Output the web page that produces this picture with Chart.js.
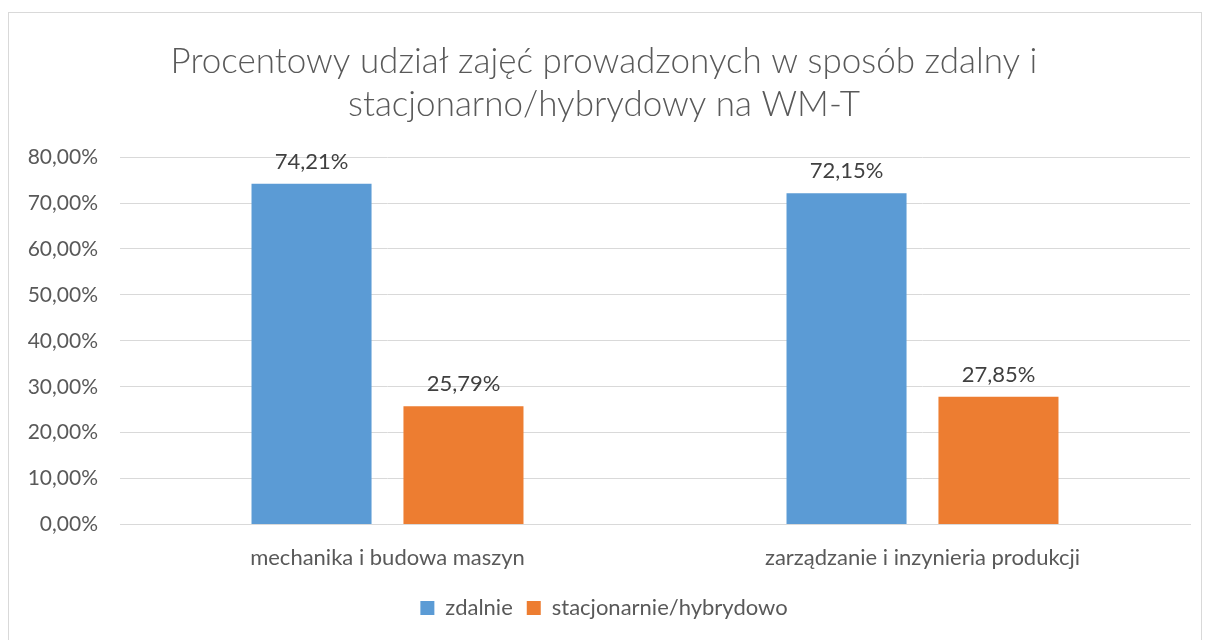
<!DOCTYPE html>
<html lang="pl">
<head>
  <meta charset="UTF-8">
  <title>Procentowy udział zajęć</title>
  <script src="https://cdn.jsdelivr.net/npm/chart.js"></script>
  <style>
    body {
      margin: 0;
      padding: 0;
      background: #fff;
    }

    .wrap {
      position: relative;
      width: 1208px;
      height: 640px;
    }

    .frame {
      position: absolute;
      left: 8px;
      top: 12px;
      width: 1192px;
      height: 640px;
      border: 1px solid #d9d9d9;
      pointer-events: none;
    }
  </style>
</head>
<body>
  <div class="wrap">
    <canvas id="chartCanvas" width="1208" height="640"></canvas>
    <div class="frame"></div>
  </div>

  <script>
    const categories = ["mechanika i budowa maszyn", "zarządzanie i inzynieria produkcji"];
    const zdalnie = [74.21, 72.15];
    const stacjonarnie = [25.79, 27.85];
    const seriesNames = ["zdalnie", "stacjonarnie/hybrydowo"];

    const fontFamily = "Lato, 'Open Sans', sans-serif";
    const textColor = "#595959";

    const fmt = v => v.toFixed(2).replace(".", ",") + "%";

    // etykiety nad słupkami
    const barLabels = {
      id: "barLabels",
      afterDatasetsDraw(chart) {
        const c = chart.ctx;
        c.save();
        c.font = "22px " + fontFamily;
        c.fillStyle = "#404040";
        c.textAlign = "center";
        c.textBaseline = "middle";
        chart.data.datasets.forEach((ds, i) => {
          chart.getDatasetMeta(i).data.forEach((bar, j) => {
            c.fillText(fmt(ds.data[j]), bar.x, bar.y - 22);
          });
        });
        c.restore();
      }
    };

    const ctx = document.getElementById("chartCanvas").getContext("2d");
    new Chart(ctx, {
      type: "bar",
      data: {
        labels: categories,
        datasets: [
          {
            label: seriesNames[0],
            data: zdalnie,
            backgroundColor: "#5b9bd5",
            categoryPercentage: 0.568,
            barPercentage: 0.79
          },
          {
            label: seriesNames[1],
            data: stacjonarnie,
            backgroundColor: "#ed7d31",
            categoryPercentage: 0.568,
            barPercentage: 0.79
          }
        ]
      },
      options: {
        responsive: false,
        animation: false,
        layout: { padding: { left: 18, right: 18, top: 40, bottom: 11 } },
        plugins: {
          title: {
            display: true,
            text: ["Procentowy udział zajęć prowadzonych w sposób zdalny i", "stacjonarno/hybrydowy na WM-T"],
            color: textColor,
            font: { family: fontFamily, size: 35, weight: "300", lineHeight: 1.23 },
            padding: { top: 0, bottom: 31 }
          },
          legend: {
            position: "bottom",
            labels: {
              color: textColor,
              font: { family: fontFamily, size: 22 },
              boxWidth: 14,
              boxHeight: 14,
              padding: 14
            }
          },
          tooltip: { enabled: false }
        },
        scales: {
          x: {
            grid: { display: false },
            border: { color: "#d9d9d9" },
            ticks: { color: textColor, font: { family: fontFamily, size: 22 }, padding: 12 }
          },
          y: {
            min: 0,
            max: 80,
            afterFit(scale) { scale.width = 102; },
            grid: { color: "#d9d9d9", drawTicks: false },
            border: { display: false },
            ticks: {
              stepSize: 10,
              color: textColor,
              font: { family: fontFamily, size: 21 },
              padding: 22,
              callback: v => fmt(v)
            }
          }
        }
      },
      plugins: [barLabels]
    });
  </script>
</body>
</html>
